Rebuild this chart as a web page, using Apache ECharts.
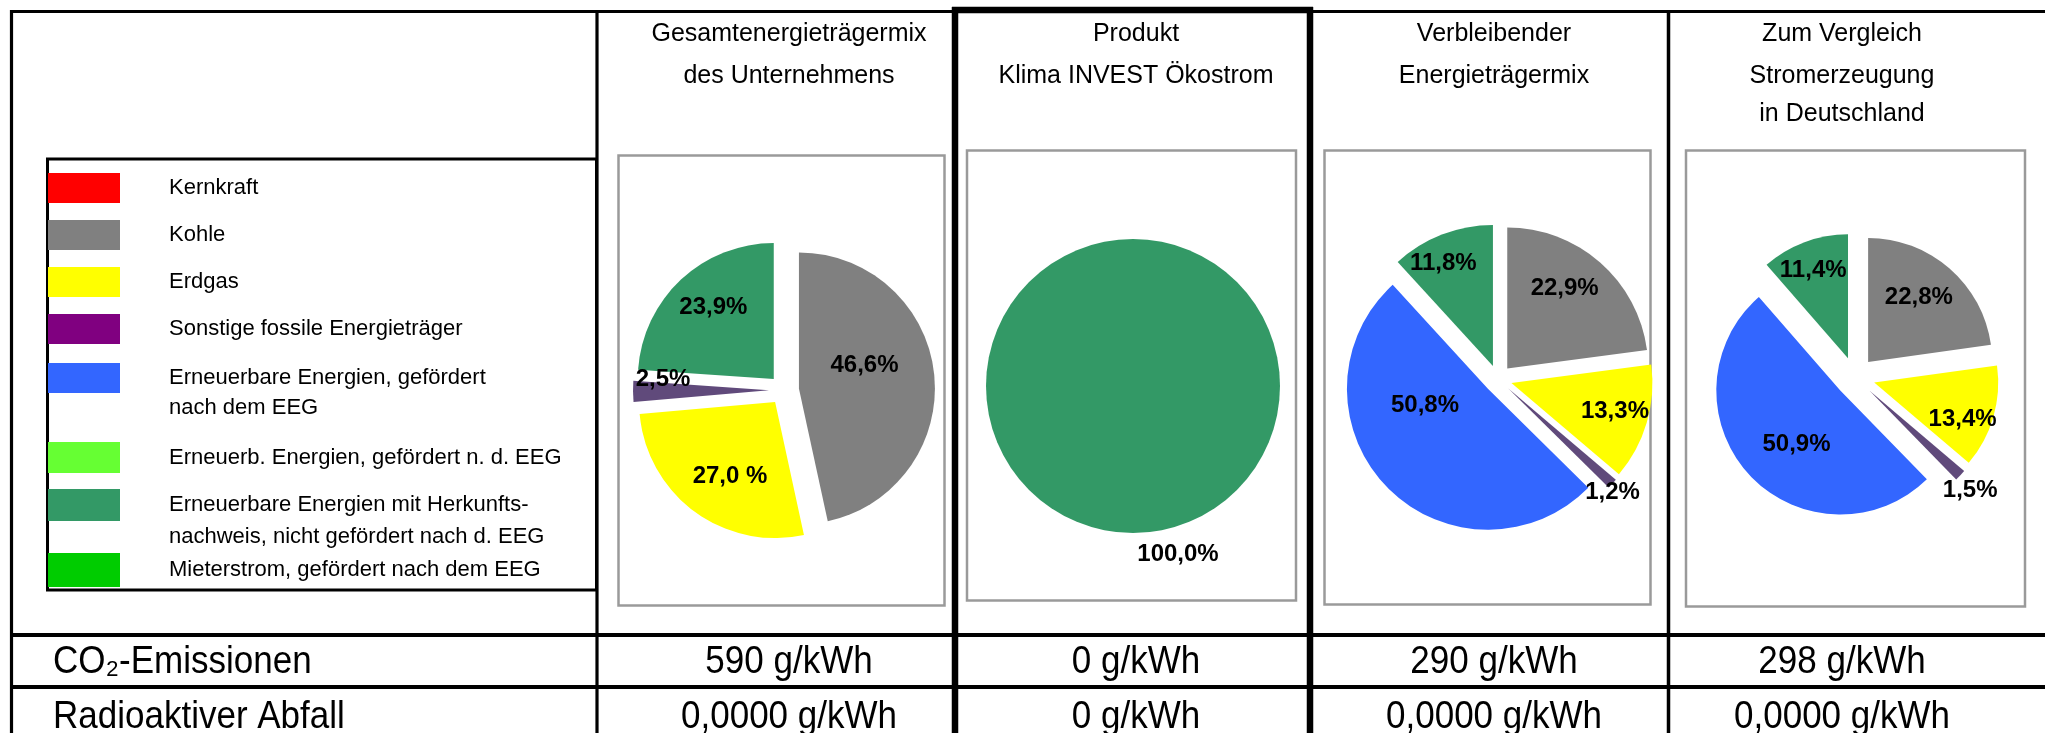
<!DOCTYPE html>
<html><head><meta charset="utf-8">
<script src="https://cdn.jsdelivr.net/npm/echarts@6/dist/echarts.min.js"></script>
<style>html,body{margin:0;padding:0;background:#fff}#c{width:2045px;height:733px}</style>
</head><body><div id="c"></div><script>
// ---- data ----
const categories = ['Kernkraft','Kohle','Erdgas','Sonstige fossile Energieträger',
  'Erneuerbare Energien, gefördert nach dem EEG','Erneuerb. Energien, gefördert n. d. EEG',
  'Erneuerbare Energien mit Herkunftsnachweis, nicht gefördert nach d. EEG','Mieterstrom, gefördert nach dem EEG'];
const legendTexts = ['Kernkraft','Kohle','Erdgas','Sonstige fossile Energieträger',
  'Erneuerbare Energien, gefördert\nnach dem EEG','Erneuerb. Energien, gefördert n. d. EEG',
  'Erneuerbare Energien mit Herkunfts-\nnachweis, nicht gefördert nach d. EEG','Mieterstrom, gefördert nach dem EEG'];
const columnTitles = [['Gesamtenergieträgermix','des Unternehmens'],['Produkt','Klima INVEST Ökostrom'],
  ['Verbleibender','Energieträgermix'],['Zum Vergleich','Stromerzeugung','in Deutschland']];
const mixUnternehmen = [0, 46.6, 27.0, 2.5, 0, 0, 23.9, 0];
const mixProdukt     = [0, 0, 0, 0, 0, 0, 100.0, 0];
const mixVerbleibend = [0, 22.9, 13.3, 1.2, 50.8, 0, 11.8, 0];
const mixDeutschland = [0, 22.8, 13.4, 1.5, 50.9, 0, 11.4, 0];
const rowLabels = ['CO₂-Emissionen','Radioaktiver Abfall'];
const co2Values = ['590 g/kWh','0 g/kWh','290 g/kWh','298 g/kWh'];
const wasteValues = ['0,0000 g/kWh','0 g/kWh','0,0000 g/kWh','0,0000 g/kWh'];

// ---- styles ----
const FONT = '"Liberation Sans", Arial, Helvetica, sans-serif';
const sliceColors  = ['#ff0000','#808080','#ffff00','#604a7b','#3366ff','#66ff33','#339966','#00cc00'];
const legendColors = ['#ff0000','#808080','#ffff00','#800080','#3366ff','#66ff33','#339966','#00cc00'];
const pieLayouts = [
  {center:[784,390], radius:136, offset:15},
  {center:[1133,386], radius:147, offset:0},
  {center:[1498,379], radius:141, offset:14},
  {center:[1855,377], radius:124, offset:20}
];
const labelNudge = [
  {1:[-5,-15], 2:[-3,17], 3:[-35,-11], 6:[-12,-20]},
  {6:[45,92]},
  {1:[9,-25], 2:[33,8], 3:[50,54], 4:[-10,-34], 6:[-23,-34]},
  {1:[8,-16], 2:[26,19], 3:[53,55], 4:[4,10], 6:[-12,-27]}
];
const spacedPercent = [[2],[],[],[]];

const chart = echarts.init(document.getElementById('c'), null, {renderer:'canvas'});

function fmt(v, si, di){
  const s = v.toFixed(1).replace('.', ',');
  return s + (spacedPercent[si].includes(di) ? ' %' : '%');
}
const mixes = [mixUnternehmen, mixProdukt, mixVerbleibend, mixDeutschland];
const series = mixes.map((vals, si) => ({
  type:'pie', name: columnTitles[si].join(' '),
  center: pieLayouts[si].center, radius: pieLayouts[si].radius,
  startAngle: 90, clockwise: true,
  selectedMode: 'multiple', selectedOffset: pieLayouts[si].offset,
  avoidLabelOverlap: false, minShowLabelAngle: 0.5,
  animation: false,
  itemStyle: {borderWidth: 0},
  emphasis: {disabled: true, scale: false},
  select: {itemStyle: {borderWidth: 0}},
  label: {show: true, position: 'inside', color: '#000', fontFamily: FONT, fontWeight: 'bold', fontSize: 24,
    formatter: p => p.value > 0 ? fmt(p.value, si, p.dataIndex) : ''},
  labelLine: {show: false},
  labelLayout: p => { const n = labelNudge[p.seriesIndex][p.dataIndex]; return n ? {dx:n[0], dy:n[1]} : {}; },
  data: vals.map((v, i) => ({name: categories[i], value: v, selected: pieLayouts[si].offset > 0 && v > 0,
    itemStyle: {color: sliceColors[i]}}))
}));

// legend groups
const legendGroups = [
  {idx:[0,1,2,3], top:173, h:30, lh:30, gap:17},
  {idx:[4], top:363, h:60, lh:30, two:true},
  {idx:[5], top:442, h:31, lh:31},
  {idx:[6], top:489, h:64, lh:32, two:true},
  {idx:[7], top:553, h:34, lh:34}
];
const legends = legendGroups.map(g => ({
  orient:'vertical', left:48, top:g.top, padding:0, itemGap:g.gap || 10,
  itemWidth:72, itemHeight:g.h, selectedMode:false,
  itemStyle:{borderWidth:0},
  textStyle:{fontFamily:FONT, fontSize:22, color:'#000', lineHeight:g.lh, padding:[0,0,0,44]},
  formatter: name => legendTexts[categories.indexOf(name)],
  data: g.idx.map(i => ({name: categories[i], itemStyle:{color: legendColors[i], borderWidth:0},
    icon: g.two ? 'path://M0,0H72V' + (g.h/2) + 'H0Z M0,' + g.h + 'H72' : 'rect'}))
}));

// ---- table graphics ----
const G = [];
function line(x1,y1,x2,y2,w){ G.push({type:'line', shape:{x1,y1,x2,y2}, style:{stroke:'#000', lineWidth:w}, z:10}); }
function rect(x,y,w,h,stroke,lw){ G.push({type:'rect', shape:{x,y,width:w,height:h}, style:{fill:'none', stroke, lineWidth:lw}, z:1}); }
function text(t,x,y,size,align,opts){ G.push(Object.assign({type:'text', x, y, z:12,
  style:{text:t, fontFamily:FONT, fontSize:size, fill:'#000', align, verticalAlign:'middle'}}, opts||{})); }

// gray chart frames
rect(618.5,155.5,326,450,'#9a9a9a',2.5);
rect(967,150.5,329,450,'#9a9a9a',2.5);
rect(1324.5,150.5,326,454,'#9a9a9a',2.5);
rect(1686,150.5,339,456,'#9a9a9a',2.5);
// legend frame
rect(47.5,159,549,431,'#000',3);
// grid
line(10,11.5,2045,11.5,3.2);
line(11.5,10,11.5,733,3.2);
line(597,10,597,733,3.2);
line(1668.5,10,1668.5,733,3.5);
line(10,635,2045,635,4);
line(10,687,2045,687,4);
// product column thick frame
line(952,10,1313,10,6.5);
line(955,7,955,733,6.5);
line(1310,7,1310,733,6.5);

// column headers
const colCenters = [789,1136,1494,1842];
const headerY = [34,76,114];
columnTitles.forEach((lines, ci) => lines.forEach((t, li) => text(t, colCenters[ci], headerY[li], 25, 'center')));
// rows
const rowY = [662,717];
rowLabels.forEach((t, ri) => text(t, 53, rowY[ri], 35, 'left', {scaleY:1.12}));
co2Values.forEach((t, ci) => text(t, colCenters[ci], rowY[0], 35, 'center', {scaleY:1.12}));
wasteValues.forEach((t, ci) => text(t, colCenters[ci], rowY[1], 35, 'center', {scaleY:1.12}));

chart.setOption({
  backgroundColor:'#fff', animation:false,
  legend: legends,
  series: series,
  graphic: {elements: G}
});
</script></body></html>
